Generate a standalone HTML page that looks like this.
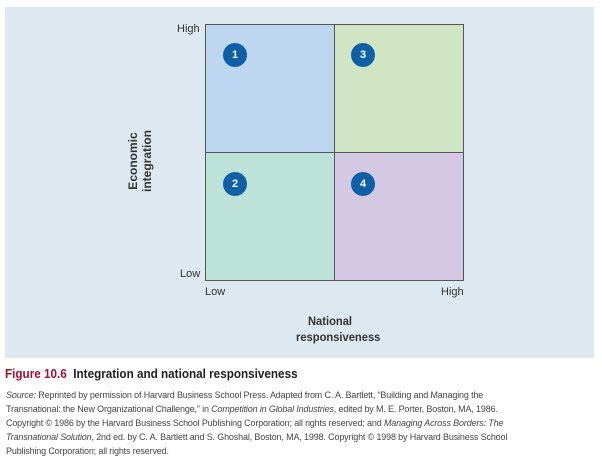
<!DOCTYPE html>
<html><head><style>
body{margin:0;width:602px;height:464px;background:#fff;position:relative;overflow:hidden;font-family:"Liberation Sans",sans-serif;}
.panel{position:absolute;left:5px;top:7px;width:589px;height:351px;background:#dde8f1;}
.q{position:absolute;border:1px solid #555;box-sizing:border-box;}
.c{position:absolute;width:24px;height:24px;border-radius:50%;background:#0f5fa6;color:#fff;font-size:11px;font-weight:bold;text-align:center;line-height:24px;}
.t{position:absolute;font-size:11px;color:#333;white-space:nowrap;}
.src{position:absolute;left:6px;font-size:9.6px;color:#444;white-space:nowrap;letter-spacing:-0.15px;transform:scaleX(0.935);transform-origin:left top;}
</style></head><body>
<div class="panel"></div>
<div class="q" style="left:205px;top:24px;width:130px;height:129px;background:#bcd7ef"></div>
<div class="q" style="left:334px;top:24px;width:130px;height:129px;background:#d0e5c4"></div>
<div class="q" style="left:205px;top:152px;width:130px;height:129px;background:#bde2da"></div>
<div class="q" style="left:334px;top:152px;width:130px;height:129px;background:#d5c8e2"></div>
<div class="c" style="left:223px;top:43px">1</div>
<div class="c" style="left:351px;top:43px">3</div>
<div class="c" style="left:223px;top:172px">2</div>
<div class="c" style="left:351px;top:172px">4</div>
<div class="t" style="left:177px;top:23px">High</div>
<div class="t" style="left:180px;top:268px">Low</div>
<div class="t" style="left:205px;top:286px">Low</div>
<div class="t" style="left:441px;top:286px">High</div>
<div class="t" style="left:308px;top:314px;font-weight:bold;font-size:12px;transform:scaleX(0.93);transform-origin:left">National</div>
<div class="t" style="left:296px;top:330px;font-weight:bold;font-size:12px;transform:scaleX(0.93);transform-origin:left">responsiveness</div>
<div class="t" style="left:95px;top:147px;font-weight:bold;font-size:12px;transform:rotate(-90deg);transform-origin:center;width:90px;text-align:center;line-height:14px;white-space:normal">Economic integration</div>
<div class="t" style="left:5px;top:366px;font-size:13px;font-weight:bold;color:#222;transform:scaleX(0.9);transform-origin:left"><span style="color:#a0112e">Figure 10.6</span>&nbsp; Integration and national responsiveness</div>
<div class="src" style="top:390px"><i>Source:</i> Reprinted by permission of Harvard Business School Press. Adapted from C. A. Bartlett, “Building and Managing the</div>
<div class="src" style="top:404px">Transnational: the New Organizational Challenge,” in <i>Competition in Global Industries</i>, edited by M. E. Porter, Boston, MA, 1986.</div>
<div class="src" style="top:418px">Copyright © 1986 by the Harvard Business School Publishing Corporation; all rights reserved; and <i>Managing Across Borders: The</i></div>
<div class="src" style="top:432px"><i>Transnational Solution</i>, 2nd ed. by C. A. Bartlett and S. Ghoshal, Boston, MA, 1998. Copyright © 1998 by Harvard Business School</div>
<div class="src" style="top:446px">Publishing Corporation; all rights reserved.</div>
</body></html>
